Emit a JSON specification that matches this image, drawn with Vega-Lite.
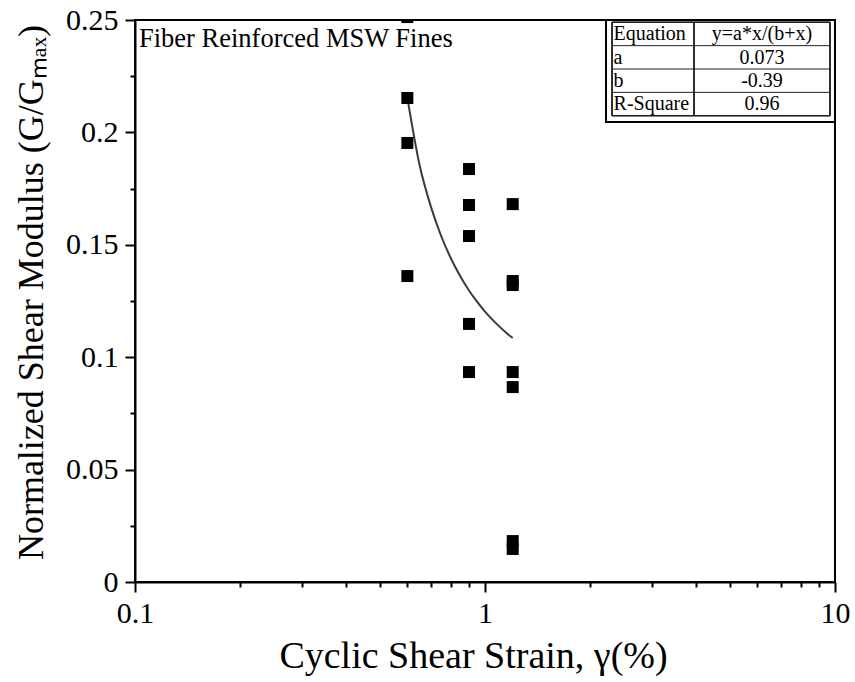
{
  "$schema": "https://vega.github.io/schema/vega-lite/v6.json",
  "width": 700,
  "height": 562,
  "autosize": {"type": "none"},
  "padding": {"left": 135, "top": 20, "right": 20, "bottom": 100},
  "background": "white",
  "config": {
    "font": "Liberation Serif",
    "view": {"stroke": "black", "strokeWidth": 2},
    "axis": {"labelFont": "Liberation Serif", "titleFont": "Liberation Serif", "grid": false}
  },
  "datasets": {
    "points": [
      {"strain": 0.6, "G": 0.2513},
      {"strain": 0.6, "G": 0.2153},
      {"strain": 0.6, "G": 0.1953},
      {"strain": 0.6, "G": 0.1361},
      {"strain": 0.9, "G": 0.1837},
      {"strain": 0.9, "G": 0.1677},
      {"strain": 0.9, "G": 0.1539},
      {"strain": 0.9, "G": 0.1148},
      {"strain": 0.9, "G": 0.0934},
      {"strain": 1.2, "G": 0.1681},
      {"strain": 1.2, "G": 0.1339},
      {"strain": 1.2, "G": 0.1321},
      {"strain": 1.2, "G": 0.0934},
      {"strain": 1.2, "G": 0.0867},
      {"strain": 1.2, "G": 0.0182},
      {"strain": 1.2, "G": 0.0147}
    ],
    "fit": [
      {"strain": 0.6, "G": 0.2155},
      {"strain": 0.65, "G": 0.1856},
      {"strain": 0.7, "G": 0.1671},
      {"strain": 0.75, "G": 0.1538},
      {"strain": 0.8, "G": 0.1438},
      {"strain": 0.85, "G": 0.136},
      {"strain": 0.9, "G": 0.1297},
      {"strain": 0.95, "G": 0.1246},
      {"strain": 1.0, "G": 0.1203},
      {"strain": 1.05, "G": 0.1167},
      {"strain": 1.1, "G": 0.1136},
      {"strain": 1.15, "G": 0.1109},
      {"strain": 1.2, "G": 0.1085}
    ],
    "table": [
      {"r": 0, "param": "Equation", "value": "y=a*x/(b+x)"},
      {"r": 1, "param": "a", "value": "0.073"},
      {"r": 2, "param": "b", "value": "-0.39"},
      {"r": 3, "param": "R-Square", "value": "0.96"}
    ],
    "note": [{"label": "Fiber Reinforced MSW Fines"}]
  },
  "layer": [
    {
      "layer": [
        {
          "data": {"name": "fit"},
          "mark": {"type": "line", "color": "#3a3a3a", "strokeWidth": 2, "interpolate": "monotone"},
          "encoding": {
            "x": {
              "field": "strain", "type": "quantitative",
              "scale": {"type": "log", "domain": [0.1, 10], "nice": false},
              "title": "Cyclic Shear Strain, γ(%)",
              "axis": {
                "orient": "bottom",
                "values": [0.1, 1, 10],
                "format": "~g",
                "tickSize": 10,
                "domainColor": "black", "domainWidth": 2,
                "tickColor": "black", "tickWidth": 2,
                "labelFont": "Liberation Serif", "labelFontSize": 30, "labelColor": "black",
                "labelPadding": 6, "labelFlush": false, "labelOverlap": false,
                "titleFont": "Liberation Serif", "titleFontSize": 38, "titleFontWeight": "normal", "titleColor": "black",
                "titlePadding": 9, "titleX": 338
              }
            },
            "y": {
              "field": "G", "type": "quantitative",
              "scale": {"domain": [0, 0.25], "nice": false, "zero": false},
              "title": "Normalized Shear Modulus (G/Gₘₐₓ)",
              "axis": {
                "orient": "left",
                "values": [0, 0.05, 0.1, 0.15, 0.2, 0.25],
                "format": ".2~f",
                "tickSize": 10,
                "domainColor": "black", "domainWidth": 2,
                "tickColor": "black", "tickWidth": 2,
                "labelFont": "Liberation Serif", "labelFontSize": 30, "labelColor": "black",
                "labelPadding": 7, "labelFlush": false, "labelOverlap": false,
                "titleFont": "Liberation Serif", "titleFontSize": 36, "titleFontWeight": "normal", "titleColor": "black",
                "titlePadding": 15, "titleY": 272
              }
            }
          }
        },
        {
          "data": {"name": "points"},
          "mark": {"type": "square", "size": 144, "color": "black", "opacity": 1, "clip": true},
          "encoding": {
            "x": {
              "field": "strain", "type": "quantitative",
              "axis": {
                "orient": "bottom",
                "values": [0.2, 0.3, 0.4, 0.5, 0.6, 0.7, 0.8, 0.9, 2, 3, 4, 5, 6, 7, 8, 9],
                "tickSize": 5, "tickColor": "black", "tickWidth": 2,
                "labels": false, "domain": false, "title": null
              }
            },
            "y": {
              "field": "G", "type": "quantitative",
              "axis": {
                "orient": "left",
                "values": [0.025, 0.075, 0.125, 0.175, 0.225],
                "tickSize": 5, "tickColor": "black", "tickWidth": 2,
                "labels": false, "domain": false, "title": null
              }
            }
          }
        },
        {
          "data": {"name": "note"},
          "mark": {"type": "text", "align": "left", "baseline": "top", "font": "Liberation Serif", "fontSize": 26.5, "color": "black", "dx": 4},
          "encoding": {
            "x": {"datum": 0.1, "type": "quantitative", "axis": null},
            "y": {"datum": 0.2475, "type": "quantitative", "axis": null},
            "text": {"field": "label"}
          }
        }
      ],
      "resolve": {"axis": {"x": "independent", "y": "independent"}}
    },
    {
      "data": {"name": "table"},
      "layer": [
        {
          "mark": {"type": "rect", "fill": "white", "stroke": "black", "strokeWidth": 2},
          "encoding": {
            "x": {"datum": 2.217, "type": "quantitative", "axis": null},
            "x2": {"datum": 10},
            "y": {"datum": -0.0985, "type": "quantitative", "scale": {"domain": [-0.0985, 23.97], "reverse": true, "nice": false, "zero": false}, "axis": null},
            "y2": {"datum": 4.27}
          }
        },
        {
          "mark": {"type": "rect", "fill": null, "stroke": "#222222", "strokeWidth": 1},
          "encoding": {
            "x": {"datum": 2.307, "type": "quantitative", "axis": null},
            "x2": {"datum": 9.676},
            "y": {"datum": 0, "type": "quantitative", "axis": null},
            "y2": {"datum": 4}
          }
        },
        {
          "mark": {"type": "rule", "color": "#222222", "strokeWidth": 1},
          "encoding": {
            "x": {"datum": 3.955, "type": "quantitative", "axis": null},
            "y": {"datum": 0, "type": "quantitative", "axis": null},
            "y2": {"datum": 4}
          }
        },
        {
          "mark": {"type": "rule", "color": "#222222", "strokeWidth": 1},
          "encoding": {
            "x": {"datum": 2.307, "type": "quantitative", "axis": null},
            "x2": {"datum": 9.676},
            "y": {"field": "r", "type": "quantitative", "axis": null}
          }
        },
        {
          "mark": {"type": "text", "align": "left", "baseline": "middle", "font": "Liberation Serif", "fontSize": 20, "color": "black", "dy": 12},
          "encoding": {
            "x": {"datum": 2.33, "type": "quantitative", "axis": null},
            "y": {"field": "r", "type": "quantitative", "axis": null},
            "text": {"field": "param"}
          }
        },
        {
          "mark": {"type": "text", "align": "center", "baseline": "middle", "font": "Liberation Serif", "fontSize": 20, "color": "black", "dy": 12},
          "encoding": {
            "x": {"datum": 6.185, "type": "quantitative", "axis": null},
            "y": {"field": "r", "type": "quantitative", "axis": null},
            "text": {"field": "value"}
          }
        }
      ]
    }
  ],
  "resolve": {"scale": {"y": "independent"}, "axis": {"x": "independent", "y": "independent"}}
}
